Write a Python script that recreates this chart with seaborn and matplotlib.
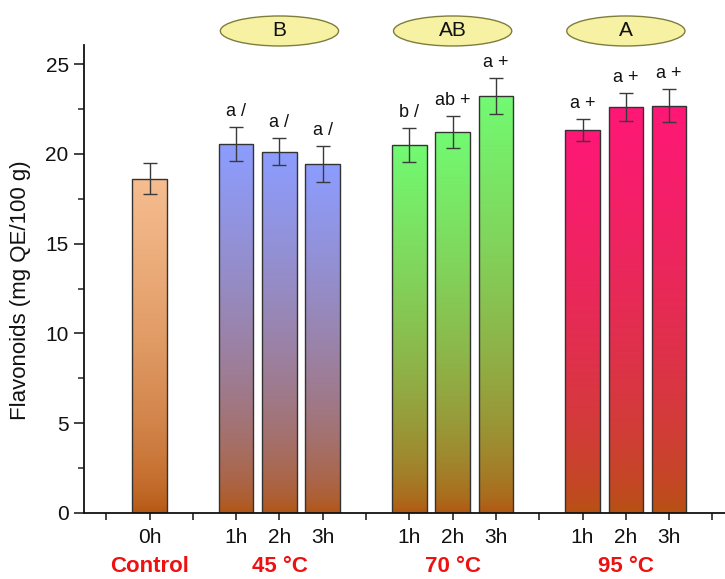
import numpy as np
import pandas as pd
import matplotlib
matplotlib.use("Agg")
import matplotlib.pyplot as plt
import matplotlib.transforms as mtransforms
from matplotlib.patches import Ellipse
from matplotlib.colors import to_rgb
import seaborn as sns

# ---- data ----
groups = ["Control", "45 °C", "70 °C", "95 °C"]
bar_group = ["Control", "45 °C", "45 °C", "45 °C", "70 °C", "70 °C", "70 °C",
             "95 °C", "95 °C", "95 °C"]
times = ["0h", "1h", "2h", "3h", "1h", "2h", "3h", "1h", "2h", "3h"]
positions = [0, 2, 3, 4, 6, 7, 8, 10, 11, 12]
means = [18.62, 20.53, 20.12, 19.41, 20.47, 21.20, 23.22, 21.34, 22.62, 22.68]
errors = [0.85, 0.95, 0.75, 1.00, 0.95, 0.90, 1.00, 0.60, 0.78, 0.93]
letters = ["", "a /", "a /", "a /", "b /", "ab +", "a +", "a +", "a +", "a +"]
group_letters = ["B", "AB", "A"]
group_letter_pos = [3, 7, 11]
group_label_pos = [0, 3, 7, 11]

top_colors = ["#f6bd8f", "#8c9dff", "#72fa72", "#ff1777"]
bottom_color = "#b4540f"

sns.set_theme(style="ticks")
plt.rcParams["font.family"] = ["Liberation Sans", "DejaVu Sans"]

fig = plt.figure(figsize=(7.25, 5.79), dpi=100)
ax = fig.add_axes([0.1159, 0.114, 1 - 0.1159, 0.8083])

df = pd.DataFrame({"pos": positions, "mean": means, "group": bar_group})
sns.barplot(data=df, x="pos", y="mean", hue="group", hue_order=groups,
            palette=dict(zip(groups, top_colors)), native_scale=True,
            width=0.8, dodge=False, legend=False, errorbar=None,
            saturation=1, edgecolor="#333333", linewidth=1.0, ax=ax)

# vertical gradient fill inside each bar: group colour on top, brown at base
bot = np.array(to_rgb(bottom_color))
for p in list(ax.patches):
    x0, w, h = p.get_x(), p.get_width(), p.get_height()
    if h <= 0:
        continue
    top = np.array(p.get_facecolor()[:3])
    t = np.linspace(0, 1, 256) ** 0.6
    grad = bot[None, :] + (top - bot)[None, :] * t[:, None]
    im = ax.imshow(grad[:, None, :], extent=[x0, x0 + w, 0, h], origin="lower",
                   aspect="auto", interpolation="bilinear", zorder=1.5)
    im.set_clip_path(p)
    p.set_facecolor("none")
    p.set_zorder(2)

ax.errorbar(positions, means, yerr=errors, fmt="none", ecolor="#3a3a3a",
            elinewidth=1.0, capsize=5, capthick=1.0, zorder=5)

for x, m, e, lab in zip(positions, means, errors, letters):
    if lab:
        ax.annotate(lab, (x, m + e), xytext=(0, 8), textcoords="offset points",
                    ha="center", va="baseline", fontsize=13, color="#111111")

ax.set_xlim(-1.513, 13.29)
ax.set_ylim(0, 26.06)
ax.set_aspect("auto")

tick_pos = list(range(-1, 14))
label_map = dict(zip(positions, times))
ax.set_xticks(tick_pos)
ax.set_xticklabels([label_map.get(t, "") for t in tick_pos], fontsize=15)
ax.set_yticks(np.arange(0, 26, 5))
ax.set_yticks(np.arange(0, 26, 2.5), minor=True)
ax.tick_params(axis="y", which="major", length=7, width=1.1, labelsize=15,
               pad=4, colors="#111111")
ax.tick_params(axis="y", which="minor", length=4, width=1.1)
ax.tick_params(axis="x", which="major", length=5, width=1.1, pad=6,
               colors="#111111")
ax.set_xlabel("")
ax.set_ylabel("")
sns.despine(ax=ax)
for s in ("left", "bottom"):
    ax.spines[s].set_linewidth(1.3)
    ax.spines[s].set_color("#111111")

fig.text(21 / 725, 1 - 290 / 579, "Flavonoids (mg QE/100 g)", rotation=90,
         ha="center", va="center", fontsize=16, color="#111111")

# group names below the axis
trans = mtransforms.blended_transform_factory(ax.transData, fig.transFigure)
for x, g in zip(group_label_pos, groups):
    ax.text(x, 1 - 566 / 579, g, transform=trans, ha="center", va="center",
            fontsize=16, fontweight="bold", color="#ee1111", clip_on=False)

# significance ovals above each heated group
for x, g in zip(group_letter_pos, group_letters):
    ax.add_patch(Ellipse((x, 26.84), width=2.73, height=1.67, facecolor="#f7f2a3",
                         edgecolor="#7f7d3c", linewidth=1.0, clip_on=False,
                         zorder=6))
    ax.text(x, 26.84, g, ha="center", va="center", fontsize=15,
            color="#111111", clip_on=False, zorder=7)

fig.savefig("out.png", dpi=100)
